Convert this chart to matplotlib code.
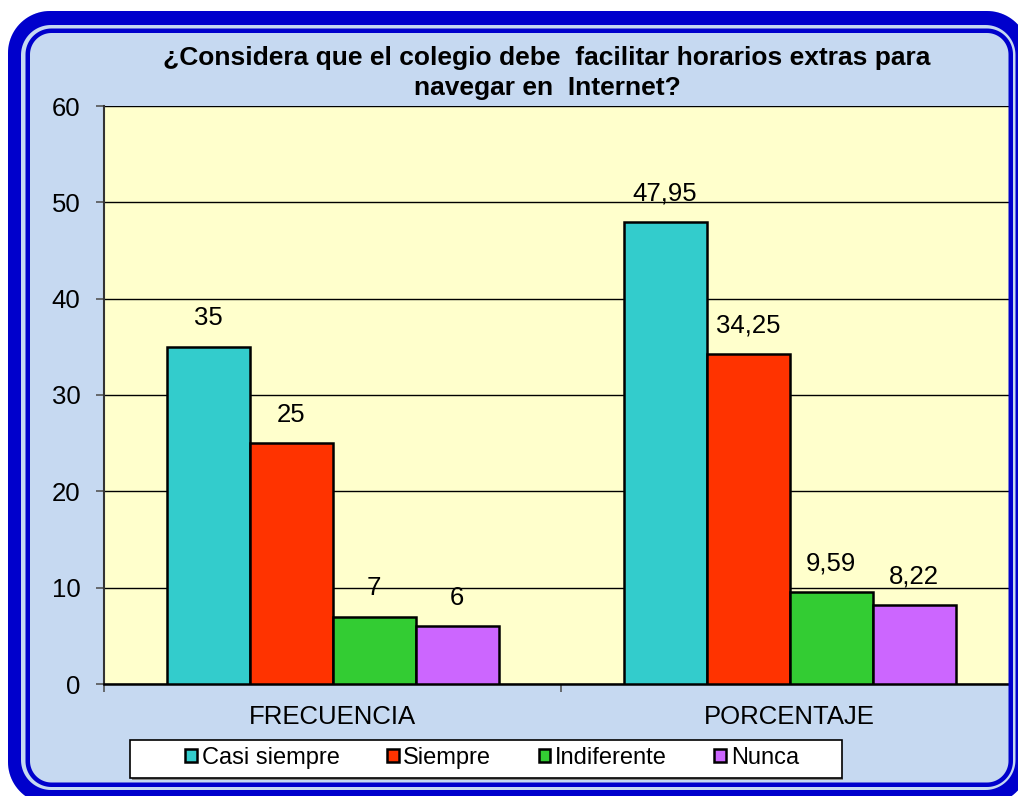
import matplotlib
matplotlib.use("Agg")
import matplotlib.pyplot as plt
from matplotlib.patches import PathPatch, Rectangle
from matplotlib.path import Path
from matplotlib import font_manager as fm
import numpy as np

categories = ["FRECUENCIA", "PORCENTAJE"]
series_names = ["Casi siempre", "Siempre", "Indiferente", "Nunca"]
values = {
    "Casi siempre": [35, 47.95],
    "Siempre": [25, 34.25],
    "Indiferente": [7, 9.59],
    "Nunca": [6, 8.22],
}
value_labels = {
    "Casi siempre": ["35", "47,95"],
    "Siempre": ["25", "34,25"],
    "Indiferente": ["7", "9,59"],
    "Nunca": ["6", "8,22"],
}
colors = ["#33CCCC", "#FF3300", "#33CC33", "#CC66FF"]
title = "¿Considera que el colegio debe  facilitar horarios extras para\nnavegar en  Internet?"
yticks = [0, 10, 20, 30, 40, 50, 60]

names = {f.name for f in fm.fontManager.ttflist}
base = "Liberation Sans" if "Liberation Sans" in names else "DejaVu Sans"
plt.rcParams["font.family"] = [base, "DejaVu Sans"]

W, H = 1018, 796
BLUE = "#0000CC"
LIGHT = "#C6D9F1"
fig = plt.figure(figsize=(W / 100, H / 100), dpi=100)
fig.patch.set_facecolor("white")


def fx(px):
    return px / W


def fy(py):
    return 1 - py / H


def rrect(x0, y0, x1, y1, r, n=24):
    pts = []
    corners = [
        (x1 - r, y0 + r, -90, 0),
        (x1 - r, y1 - r, 0, 90),
        (x0 + r, y1 - r, 90, 180),
        (x0 + r, y0 + r, 180, 270),
    ]
    for cx, cy, a0, a1 in corners:
        t = np.radians(np.linspace(a0, a1, n))
        pts.append(np.column_stack([cx + r * np.cos(t), cy + r * np.sin(t)]))
    return np.vstack(pts)


def ring(outer, inner):
    verts = np.vstack([outer, outer[:1], inner[::-1], inner[-1:]])
    codes = ([Path.MOVETO] + [Path.LINETO] * (len(outer) - 1) + [Path.CLOSEPOLY]
             + [Path.MOVETO] + [Path.LINETO] * (len(inner) - 1) + [Path.CLOSEPOLY])
    return Path(verts, codes)


# background axes in pixel coordinates
bgax = fig.add_axes([0, 0, 1, 1], zorder=-10)
bgax.set_xlim(0, W)
bgax.set_ylim(H, 0)
bgax.axis("off")
bg = rrect(8, 11, 1029, 804, 42)
bgax.add_patch(PathPatch(Path(np.vstack([bg, bg[:1]])), facecolor=LIGHT,
                         edgecolor="none"))
# legend box
bgax.add_patch(Rectangle((132, 778), 711, 2, facecolor="#888888", edgecolor="none"))
bgax.add_patch(Rectangle((130, 740), 712, 38, facecolor="white",
                         edgecolor="black", linewidth=1.2))

ax = fig.add_axes([fx(104), fy(684), fx(1018 - 104), (684 - 106) / H])
ax.set_facecolor("#FFFFCC")

bw = 83 / 457
x = np.arange(len(categories))
for i, name in enumerate(series_names):
    xs = x + (i - 1.5) * bw
    ax.bar(xs, values[name], width=bw, color=colors[i], edgecolor="black",
           linewidth=1.8, label=name, zorder=3)
    for xi, v, lab in zip(xs, values[name], value_labels[name]):
        ax.annotate(lab, (xi, v), xytext=(0, 15.5), textcoords="offset points",
                    ha="center", va="baseline", fontsize=18.5, zorder=4)

ax.set_xlim(-0.5, 1.5)
ax.set_ylim(0, 60)
ax.set_yticks(yticks)
ax.set_yticklabels([str(t) for t in yticks], fontsize=18.5)
ax.yaxis.grid(True, color="black", linewidth=1.0, zorder=1)
ax.set_axisbelow(True)
ax.set_xticks([-0.5, 0.5, 1.5])
ax.set_xticklabels([])
ax.set_xticks(x, minor=True)
ax.set_xticklabels(categories, minor=True, fontsize=18.5)
ax.tick_params(axis="x", which="major", length=6, width=1.2, color="#555555", direction="out")
ax.tick_params(axis="x", which="minor", length=0, pad=15)
ax.tick_params(axis="y", length=6, width=1.2, color="#555555", pad=11)
for s in ["top", "right"]:
    ax.spines[s].set_visible(False)
ax.spines["left"].set_color("#333333")
ax.spines["left"].set_linewidth(1.5)
ax.spines["bottom"].set_color("black")
ax.spines["bottom"].set_linewidth(1.8)

fig.text(fx(547), fy(95), title, ha="center", va="baseline", fontsize=19,
         fontweight="bold", linespacing=1.3)

handles, labels = ax.get_legend_handles_labels()
leg = fig.legend(handles, labels, loc="center", bbox_to_anchor=(fx(492), fy(758)),
                 ncol=4, frameon=False, prop={"size": 17}, handlelength=0.5,
                 handleheight=0.5, handletextpad=0.2, columnspacing=2.0,
                 borderpad=0.2)

# frame on top
fgax = fig.add_axes([0, 0, 1, 1], zorder=20)
fgax.set_xlim(0, W)
fgax.set_ylim(H, 0)
fgax.axis("off")
fgax.patch.set_alpha(0)
fgax.add_patch(Rectangle((1011, 25), 30, 765, facecolor=LIGHT, edgecolor="none"))
fgax.add_patch(PathPatch(ring(rrect(25.5, 28.5, 1013, 787, 26),
                              rrect(30, 33, 1008.5, 782.5, 21.5)),
                         facecolor=BLUE, edgecolor="none"))
fgax.add_patch(PathPatch(ring(rrect(8, 11, 1029, 804, 42),
                              rrect(21, 25, 1015.5, 790, 30)),
                         facecolor=BLUE, edgecolor="none"))

fig.savefig("out.png", dpi=100)
